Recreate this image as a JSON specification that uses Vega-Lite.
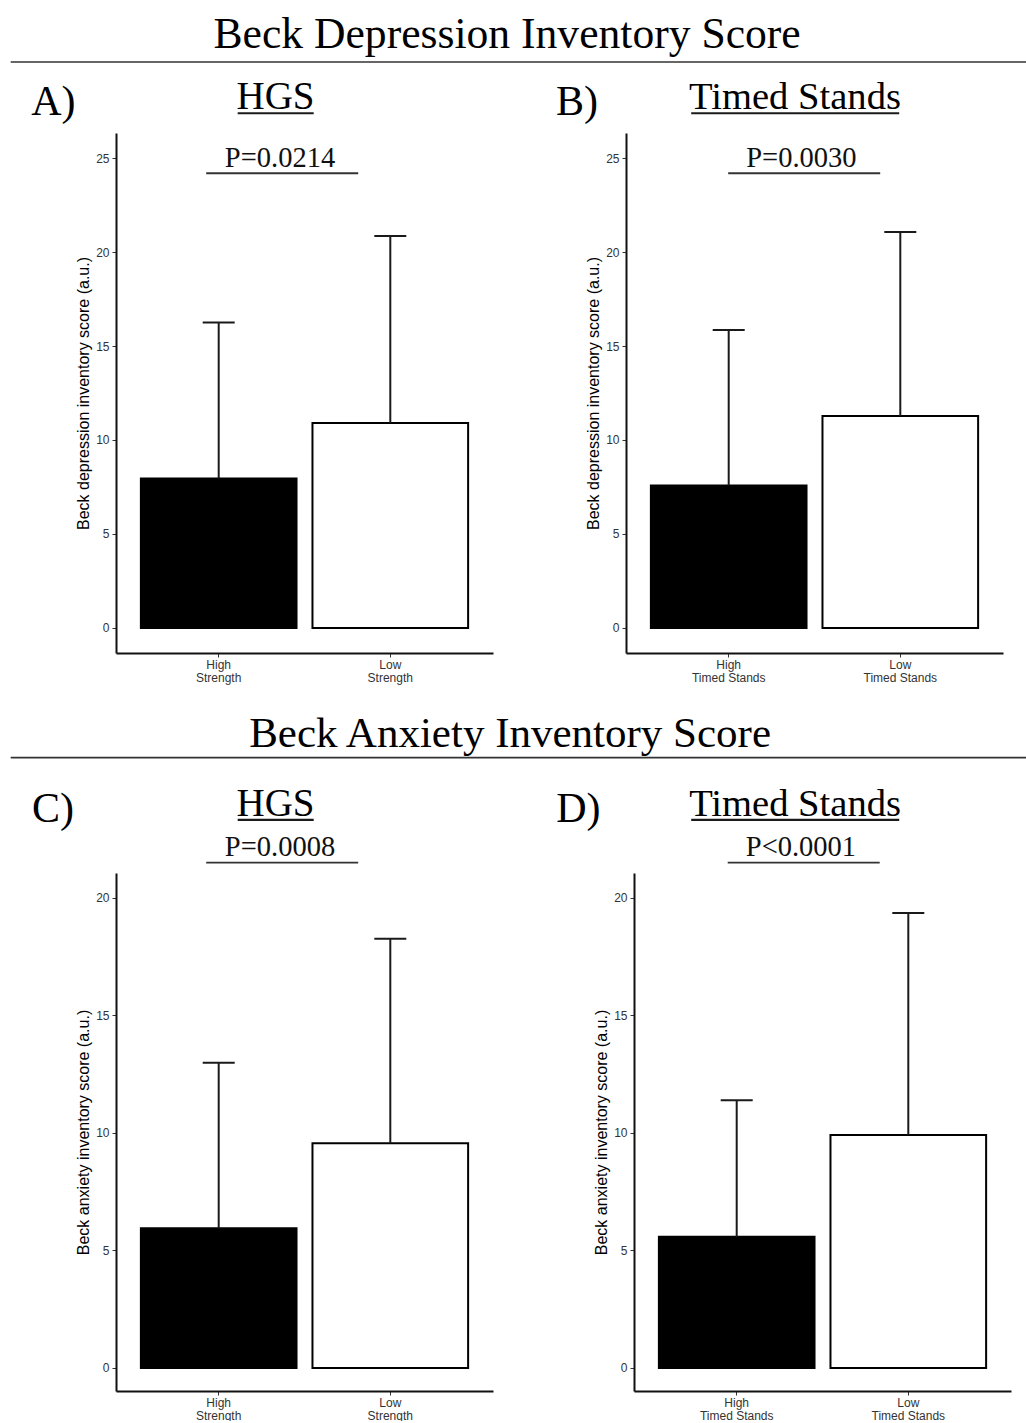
{
  "$schema": "https://vega.github.io/schema/vega-lite/v6.json",
  "background": "white",
  "padding": {"left": 10, "top": 12, "right": 0, "bottom": 0},
  "datasets": {
    "bars": [
      {"panel": "A", "cat": "High Strength", "level": "High", "mean": 7.95, "upper": 16.25},
      {"panel": "A", "cat": "Low Strength", "level": "Low", "mean": 10.9, "upper": 20.85},
      {"panel": "B", "cat": "High Timed Stands", "level": "High", "mean": 7.58, "upper": 15.85},
      {"panel": "B", "cat": "Low Timed Stands", "level": "Low", "mean": 11.28, "upper": 21.06},
      {"panel": "C", "cat": "High Strength", "level": "High", "mean": 5.94, "upper": 12.99},
      {"panel": "C", "cat": "Low Strength", "level": "Low", "mean": 9.56, "upper": 18.26},
      {"panel": "D", "cat": "High Timed Stands", "level": "High", "mean": 5.58, "upper": 11.39},
      {"panel": "D", "cat": "Low Timed Stands", "level": "Low", "mean": 9.91, "upper": 19.36}
    ],
    "panels": [
      {"panel": "A", "letter": "A)", "measure": "HGS", "p": "P=0.0214", "section": "Beck Depression Inventory Score"},
      {"panel": "B", "letter": "B)", "measure": "Timed Stands", "p": "P=0.0030", "section": ""},
      {"panel": "C", "letter": "C)", "measure": "HGS", "p": "P=0.0008", "section": "Beck Anxiety Inventory Score"},
      {"panel": "D", "letter": "D)", "measure": "Timed Stands", "p": "P<0.0001", "section": ""}
    ]
  },
  "spacing": 29,
  "resolve": {"scale": {"x": "independent", "y": "independent"}},
  "vconcat": [
    {
      "spacing": 133,
      "bounds": "flush",
      "resolve": {"scale": {"x": "independent", "y": "independent"}},
      "hconcat": [
        {
          "width": 377, "height": 520,
          "layer": [
            {"data": {"name": "bars"}, "transform": [{"filter": "datum.panel === 'A'"}],
             "mark": {"type": "bar", "stroke": "#000000", "strokeWidth": 2},
             "encoding": {
               "x": {"field": "cat", "type": "nominal", "sort": null, "title": null, "scale": {"domain": ["High Strength", "Low Strength"], "paddingInner": 0.093, "paddingOuter": 0.145}, "axis": {"title": null, "labelAngle": 0, "labelLineHeight": 13, "labelColor": "#333333", "labelExpr": "[slice(datum.label, 0, indexof(datum.label, ' ')), slice(datum.label, indexof(datum.label, ' ') + 1)]"}},
               "y": {"field": "mean", "type": "quantitative", "title": "Beck depression inventory score (a.u.)", "scale": {"domain": [-1.33, 26.33], "nice": false, "zero": false}, "axis": {"title": "Beck depression inventory score (a.u.)", "values": [0, 5, 10, 15, 20, 25]}},
               "y2": {"datum": 0},
               "fill": {"field": "level", "type": "nominal", "scale": {"domain": ["High", "Low"], "range": ["#000000", "#ffffff"]}, "legend": null}
             }},
            {"data": {"name": "bars"}, "transform": [{"filter": "datum.panel === 'A'"}],
             "mark": {"type": "rule", "strokeWidth": 2, "color": "#1a1a1a"},
             "encoding": {"x": {"field": "cat", "type": "nominal", "title": null}, "y": {"field": "mean", "type": "quantitative", "title": "Beck depression inventory score (a.u.)"}, "y2": {"field": "upper"}}},
            {"data": {"name": "bars"}, "transform": [{"filter": "datum.panel === 'A'"}],
             "mark": {"type": "tick", "size": 32, "thickness": 2, "color": "#1a1a1a", "opacity": 1},
             "encoding": {"x": {"field": "cat", "type": "nominal", "title": null}, "y": {"field": "upper", "type": "quantitative", "title": "Beck depression inventory score (a.u.)"}}},
            {"data": {"name": "panels"}, "transform": [{"filter": "datum.panel === 'A'"}],
             "mark": {"type": "text", "font": "Liberation Serif", "fontSize": 42, "align": "left", "baseline": "alphabetic", "color": "#000000"},
             "encoding": {"x": {"datum": "High Strength", "type": "nominal", "bandPosition": -0.705, "title": null}, "y": {"datum": 27.29, "type": "quantitative", "title": "Beck depression inventory score (a.u.)"}, "text": {"field": "letter"}}},
            {"data": {"name": "panels"}, "transform": [{"filter": "datum.panel === 'A'"}],
             "mark": {"type": "text", "font": "Liberation Serif", "fontSize": 39, "align": "center", "baseline": "alphabetic", "color": "#000000"},
             "encoding": {"x": {"datum": "High Strength", "type": "nominal", "bandPosition": 0.865, "title": null}, "y": {"datum": 27.59, "type": "quantitative", "title": "Beck depression inventory score (a.u.)"}, "text": {"field": "measure"}}},
            {"data": {"name": "panels"}, "transform": [{"filter": "datum.panel === 'A'"}],
             "mark": {"type": "tick", "size": 76, "thickness": 2.2, "color": "#1a1a1a", "opacity": 1, "xOffset": 57},
             "encoding": {"x": {"datum": "High Strength", "type": "nominal", "title": null}, "y": {"datum": 27.38, "type": "quantitative", "title": "Beck depression inventory score (a.u.)"}}},
            {"data": {"name": "panels"}, "transform": [{"filter": "datum.panel === 'A'"}],
             "mark": {"type": "text", "font": "Liberation Serif", "fontSize": 28.5, "align": "center", "baseline": "alphabetic", "color": "#111111"},
             "encoding": {"x": {"datum": "High Strength", "type": "nominal", "bandPosition": 0.894, "title": null}, "y": {"datum": 24.52, "type": "quantitative", "title": "Beck depression inventory score (a.u.)"}, "text": {"field": "p"}}},
            {"data": {"name": "panels"}, "transform": [{"filter": "datum.panel === 'A'"}],
             "mark": {"type": "tick", "size": 152, "thickness": 1.8, "color": "#333333", "opacity": 1, "xOffset": 63.5},
             "encoding": {"x": {"datum": "High Strength", "type": "nominal", "title": null}, "y": {"datum": 24.19, "type": "quantitative", "title": "Beck depression inventory score (a.u.)"}}},
            {"data": {"name": "panels"}, "transform": [{"filter": "datum.panel === 'A'"}],
             "mark": {"type": "text", "font": "Liberation Serif", "fontSize": 43.6, "align": "center", "baseline": "alphabetic", "color": "#000000"},
             "encoding": {"x": {"datum": "High Strength", "type": "nominal", "bandPosition": 2.353, "title": null}, "y": {"datum": 30.87, "type": "quantitative", "title": "Beck depression inventory score (a.u.)"}, "text": {"field": "section"}}},
            {"data": {"name": "panels"}, "transform": [{"filter": "datum.panel === 'A'"}],
             "mark": {"type": "tick", "size": 1016, "thickness": 1.6, "color": "#333333", "opacity": 1, "xOffset": 300},
             "encoding": {"x": {"datum": "High Strength", "type": "nominal", "title": null}, "y": {"datum": 30.11, "type": "quantitative", "title": "Beck depression inventory score (a.u.)"}}}
          ]
        },
        {
          "width": 377, "height": 520,
          "layer": [
            {"data": {"name": "bars"}, "transform": [{"filter": "datum.panel === 'B'"}],
             "mark": {"type": "bar", "stroke": "#000000", "strokeWidth": 2},
             "encoding": {
               "x": {"field": "cat", "type": "nominal", "sort": null, "title": null, "scale": {"domain": ["High Timed Stands", "Low Timed Stands"], "paddingInner": 0.093, "paddingOuter": 0.145}, "axis": {"title": null, "labelAngle": 0, "labelLineHeight": 13, "labelColor": "#333333", "labelExpr": "[slice(datum.label, 0, indexof(datum.label, ' ')), slice(datum.label, indexof(datum.label, ' ') + 1)]"}},
               "y": {"field": "mean", "type": "quantitative", "title": "Beck depression inventory score (a.u.)", "scale": {"domain": [-1.33, 26.33], "nice": false, "zero": false}, "axis": {"title": "Beck depression inventory score (a.u.)", "values": [0, 5, 10, 15, 20, 25]}},
               "y2": {"datum": 0},
               "fill": {"field": "level", "type": "nominal", "scale": {"domain": ["High", "Low"], "range": ["#000000", "#ffffff"]}, "legend": null}
             }},
            {"data": {"name": "bars"}, "transform": [{"filter": "datum.panel === 'B'"}],
             "mark": {"type": "rule", "strokeWidth": 2, "color": "#1a1a1a"},
             "encoding": {"x": {"field": "cat", "type": "nominal", "title": null}, "y": {"field": "mean", "type": "quantitative", "title": "Beck depression inventory score (a.u.)"}, "y2": {"field": "upper"}}},
            {"data": {"name": "bars"}, "transform": [{"filter": "datum.panel === 'B'"}],
             "mark": {"type": "tick", "size": 32, "thickness": 2, "color": "#1a1a1a", "opacity": 1},
             "encoding": {"x": {"field": "cat", "type": "nominal", "title": null}, "y": {"field": "upper", "type": "quantitative", "title": "Beck depression inventory score (a.u.)"}}},
            {"data": {"name": "panels"}, "transform": [{"filter": "datum.panel === 'B'"}],
             "mark": {"type": "text", "font": "Liberation Serif", "fontSize": 42, "align": "left", "baseline": "alphabetic", "color": "#000000"},
             "encoding": {"x": {"datum": "High Timed Stands", "type": "nominal", "bandPosition": -0.609, "title": null}, "y": {"datum": 27.29, "type": "quantitative", "title": "Beck depression inventory score (a.u.)"}, "text": {"field": "letter"}}},
            {"data": {"name": "panels"}, "transform": [{"filter": "datum.panel === 'B'"}],
             "mark": {"type": "text", "font": "Liberation Serif", "fontSize": 38.6, "align": "center", "baseline": "alphabetic", "color": "#000000"},
             "encoding": {"x": {"datum": "High Timed Stands", "type": "nominal", "bandPosition": 0.926, "title": null}, "y": {"datum": 27.59, "type": "quantitative", "title": "Beck depression inventory score (a.u.)"}, "text": {"field": "measure"}}},
            {"data": {"name": "panels"}, "transform": [{"filter": "datum.panel === 'B'"}],
             "mark": {"type": "tick", "size": 208, "thickness": 2.2, "color": "#1a1a1a", "opacity": 1, "xOffset": 66.5},
             "encoding": {"x": {"datum": "High Timed Stands", "type": "nominal", "title": null}, "y": {"datum": 27.38, "type": "quantitative", "title": "Beck depression inventory score (a.u.)"}}},
            {"data": {"name": "panels"}, "transform": [{"filter": "datum.panel === 'B'"}],
             "mark": {"type": "text", "font": "Liberation Serif", "fontSize": 28.5, "align": "center", "baseline": "alphabetic", "color": "#111111"},
             "encoding": {"x": {"datum": "High Timed Stands", "type": "nominal", "bandPosition": 0.967, "title": null}, "y": {"datum": 24.52, "type": "quantitative", "title": "Beck depression inventory score (a.u.)"}, "text": {"field": "p"}}},
            {"data": {"name": "panels"}, "transform": [{"filter": "datum.panel === 'B'"}],
             "mark": {"type": "tick", "size": 152, "thickness": 1.8, "color": "#333333", "opacity": 1, "xOffset": 75.5},
             "encoding": {"x": {"datum": "High Timed Stands", "type": "nominal", "title": null}, "y": {"datum": 24.19, "type": "quantitative", "title": "Beck depression inventory score (a.u.)"}}}
          ]
        }
      ]
    },
    {
      "spacing": 141,
      "bounds": "flush",
      "resolve": {"scale": {"x": "independent", "y": "independent"}},
      "hconcat": [
        {
          "width": 377, "height": 518,
          "layer": [
            {"data": {"name": "bars"}, "transform": [{"filter": "datum.panel === 'C'"}],
             "mark": {"type": "bar", "stroke": "#000000", "strokeWidth": 2},
             "encoding": {
               "x": {"field": "cat", "type": "nominal", "sort": null, "title": null, "scale": {"domain": ["High Strength", "Low Strength"], "paddingInner": 0.093, "paddingOuter": 0.145}, "axis": {"title": null, "labelAngle": 0, "labelLineHeight": 13, "labelColor": "#333333", "labelExpr": "[slice(datum.label, 0, indexof(datum.label, ' ')), slice(datum.label, indexof(datum.label, ' ') + 1)]"}},
               "y": {"field": "mean", "type": "quantitative", "title": "Beck anxiety inventory score (a.u.)", "scale": {"domain": [-0.98, 21.06], "nice": false, "zero": false}, "axis": {"title": "Beck anxiety inventory score (a.u.)", "values": [0, 5, 10, 15, 20]}},
               "y2": {"datum": 0},
               "fill": {"field": "level", "type": "nominal", "scale": {"domain": ["High", "Low"], "range": ["#000000", "#ffffff"]}, "legend": null}
             }},
            {"data": {"name": "bars"}, "transform": [{"filter": "datum.panel === 'C'"}],
             "mark": {"type": "rule", "strokeWidth": 2, "color": "#1a1a1a"},
             "encoding": {"x": {"field": "cat", "type": "nominal", "title": null}, "y": {"field": "mean", "type": "quantitative", "title": "Beck anxiety inventory score (a.u.)"}, "y2": {"field": "upper"}}},
            {"data": {"name": "bars"}, "transform": [{"filter": "datum.panel === 'C'"}],
             "mark": {"type": "tick", "size": 32, "thickness": 2, "color": "#1a1a1a", "opacity": 1},
             "encoding": {"x": {"field": "cat", "type": "nominal", "title": null}, "y": {"field": "upper", "type": "quantitative", "title": "Beck anxiety inventory score (a.u.)"}}},
            {"data": {"name": "panels"}, "transform": [{"filter": "datum.panel === 'C'"}],
             "mark": {"type": "text", "font": "Liberation Serif", "fontSize": 42, "align": "left", "baseline": "alphabetic", "color": "#000000"},
             "encoding": {"x": {"datum": "High Strength", "type": "nominal", "bandPosition": -0.699, "title": null}, "y": {"datum": 23.23, "type": "quantitative", "title": "Beck anxiety inventory score (a.u.)"}, "text": {"field": "letter"}}},
            {"data": {"name": "panels"}, "transform": [{"filter": "datum.panel === 'C'"}],
             "mark": {"type": "text", "font": "Liberation Serif", "fontSize": 39, "align": "center", "baseline": "alphabetic", "color": "#000000"},
             "encoding": {"x": {"datum": "High Strength", "type": "nominal", "bandPosition": 0.865, "title": null}, "y": {"datum": 23.49, "type": "quantitative", "title": "Beck anxiety inventory score (a.u.)"}, "text": {"field": "measure"}}},
            {"data": {"name": "panels"}, "transform": [{"filter": "datum.panel === 'C'"}],
             "mark": {"type": "tick", "size": 76, "thickness": 2.2, "color": "#1a1a1a", "opacity": 1, "xOffset": 57},
             "encoding": {"x": {"datum": "High Strength", "type": "nominal", "title": null}, "y": {"datum": 23.32, "type": "quantitative", "title": "Beck anxiety inventory score (a.u.)"}}},
            {"data": {"name": "panels"}, "transform": [{"filter": "datum.panel === 'C'"}],
             "mark": {"type": "text", "font": "Liberation Serif", "fontSize": 28.5, "align": "center", "baseline": "alphabetic", "color": "#111111"},
             "encoding": {"x": {"datum": "High Strength", "type": "nominal", "bandPosition": 0.894, "title": null}, "y": {"datum": 21.79, "type": "quantitative", "title": "Beck anxiety inventory score (a.u.)"}, "text": {"field": "p"}}},
            {"data": {"name": "panels"}, "transform": [{"filter": "datum.panel === 'C'"}],
             "mark": {"type": "tick", "size": 152, "thickness": 1.8, "color": "#333333", "opacity": 1, "xOffset": 63.5},
             "encoding": {"x": {"datum": "High Strength", "type": "nominal", "title": null}, "y": {"datum": 21.5, "type": "quantitative", "title": "Beck anxiety inventory score (a.u.)"}}},
            {"data": {"name": "panels"}, "transform": [{"filter": "datum.panel === 'C'"}],
             "mark": {"type": "text", "font": "Liberation Serif", "fontSize": 43, "align": "center", "baseline": "alphabetic", "color": "#000000"},
             "encoding": {"x": {"datum": "High Strength", "type": "nominal", "bandPosition": 2.372, "title": null}, "y": {"datum": 26.43, "type": "quantitative", "title": "Beck anxiety inventory score (a.u.)"}, "text": {"field": "section"}}},
            {"data": {"name": "panels"}, "transform": [{"filter": "datum.panel === 'C'"}],
             "mark": {"type": "tick", "size": 1016, "thickness": 1.6, "color": "#333333", "opacity": 1, "xOffset": 300},
             "encoding": {"x": {"datum": "High Strength", "type": "nominal", "title": null}, "y": {"datum": 25.97, "type": "quantitative", "title": "Beck anxiety inventory score (a.u.)"}}}
          ]
        },
        {
          "width": 377, "height": 518,
          "layer": [
            {"data": {"name": "bars"}, "transform": [{"filter": "datum.panel === 'D'"}],
             "mark": {"type": "bar", "stroke": "#000000", "strokeWidth": 2},
             "encoding": {
               "x": {"field": "cat", "type": "nominal", "sort": null, "title": null, "scale": {"domain": ["High Timed Stands", "Low Timed Stands"], "paddingInner": 0.093, "paddingOuter": 0.145}, "axis": {"title": null, "labelAngle": 0, "labelLineHeight": 13, "labelColor": "#333333", "labelExpr": "[slice(datum.label, 0, indexof(datum.label, ' ')), slice(datum.label, indexof(datum.label, ' ') + 1)]"}},
               "y": {"field": "mean", "type": "quantitative", "title": "Beck anxiety inventory score (a.u.)", "scale": {"domain": [-0.98, 21.06], "nice": false, "zero": false}, "axis": {"title": "Beck anxiety inventory score (a.u.)", "values": [0, 5, 10, 15, 20]}},
               "y2": {"datum": 0},
               "fill": {"field": "level", "type": "nominal", "scale": {"domain": ["High", "Low"], "range": ["#000000", "#ffffff"]}, "legend": null}
             }},
            {"data": {"name": "bars"}, "transform": [{"filter": "datum.panel === 'D'"}],
             "mark": {"type": "rule", "strokeWidth": 2, "color": "#1a1a1a"},
             "encoding": {"x": {"field": "cat", "type": "nominal", "title": null}, "y": {"field": "mean", "type": "quantitative", "title": "Beck anxiety inventory score (a.u.)"}, "y2": {"field": "upper"}}},
            {"data": {"name": "bars"}, "transform": [{"filter": "datum.panel === 'D'"}],
             "mark": {"type": "tick", "size": 32, "thickness": 2, "color": "#1a1a1a", "opacity": 1},
             "encoding": {"x": {"field": "cat", "type": "nominal", "title": null}, "y": {"field": "upper", "type": "quantitative", "title": "Beck anxiety inventory score (a.u.)"}}},
            {"data": {"name": "panels"}, "transform": [{"filter": "datum.panel === 'D'"}],
             "mark": {"type": "text", "font": "Liberation Serif", "fontSize": 42, "align": "left", "baseline": "alphabetic", "color": "#000000"},
             "encoding": {"x": {"datum": "High Timed Stands", "type": "nominal", "bandPosition": -0.66, "title": null}, "y": {"datum": 23.23, "type": "quantitative", "title": "Beck anxiety inventory score (a.u.)"}, "text": {"field": "letter"}}},
            {"data": {"name": "panels"}, "transform": [{"filter": "datum.panel === 'D'"}],
             "mark": {"type": "text", "font": "Liberation Serif", "fontSize": 38.6, "align": "center", "baseline": "alphabetic", "color": "#000000"},
             "encoding": {"x": {"datum": "High Timed Stands", "type": "nominal", "bandPosition": 0.875, "title": null}, "y": {"datum": 23.49, "type": "quantitative", "title": "Beck anxiety inventory score (a.u.)"}, "text": {"field": "measure"}}},
            {"data": {"name": "panels"}, "transform": [{"filter": "datum.panel === 'D'"}],
             "mark": {"type": "tick", "size": 208, "thickness": 2.2, "color": "#1a1a1a", "opacity": 1, "xOffset": 58.5},
             "encoding": {"x": {"datum": "High Timed Stands", "type": "nominal", "title": null}, "y": {"datum": 23.32, "type": "quantitative", "title": "Beck anxiety inventory score (a.u.)"}}},
            {"data": {"name": "panels"}, "transform": [{"filter": "datum.panel === 'D'"}],
             "mark": {"type": "text", "font": "Liberation Serif", "fontSize": 28.5, "align": "center", "baseline": "alphabetic", "color": "#111111"},
             "encoding": {"x": {"datum": "High Timed Stands", "type": "nominal", "bandPosition": 0.913, "title": null}, "y": {"datum": 21.79, "type": "quantitative", "title": "Beck anxiety inventory score (a.u.)"}, "text": {"field": "p"}}},
            {"data": {"name": "panels"}, "transform": [{"filter": "datum.panel === 'D'"}],
             "mark": {"type": "tick", "size": 152, "thickness": 1.8, "color": "#333333", "opacity": 1, "xOffset": 67},
             "encoding": {"x": {"datum": "High Timed Stands", "type": "nominal", "title": null}, "y": {"datum": 21.5, "type": "quantitative", "title": "Beck anxiety inventory score (a.u.)"}}}
          ]
        }
      ]
    }
  ],
  "config": {
    "view": {"stroke": null},
    "axis": {"grid": false, "domainColor": "#111111", "domainWidth": 2, "tickColor": "#333333", "tickSize": 4, "tickWidth": 1, "labelFont": "Liberation Sans", "labelFontSize": 12, "labelColor": "#333333", "titleFont": "Liberation Sans", "titleFontSize": 16, "titleFontWeight": "normal", "titleColor": "#000000"},
    "axisY": {"labelPadding": 3, "titlePadding": 4, "labelColor": "#333333"},
    "axisX": {"labelPadding": 2}
  }
}
